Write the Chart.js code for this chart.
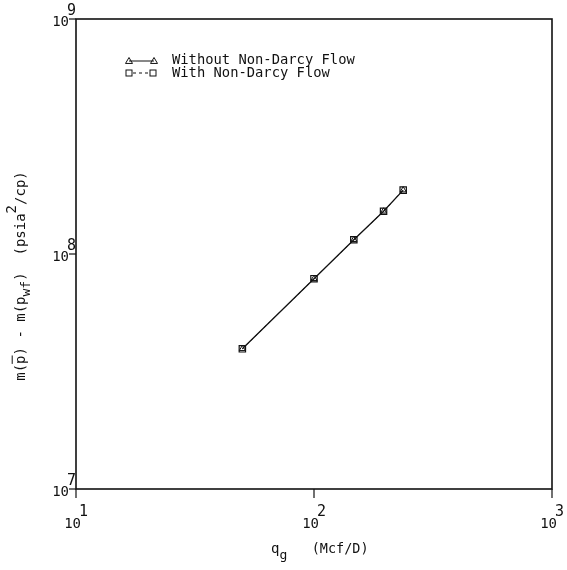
<!DOCTYPE html>
<html>
<head>
<meta charset="utf-8">
<script src="https://cdn.jsdelivr.net/npm/chart.js@4/dist/chart.umd.min.js"></script>
<style>
  html, body { margin: 0; padding: 0; background: #fff; }
  #wrap { width: 567px; height: 570px; }
</style>
</head>
<body>
<div id="wrap"><canvas id="myChart" width="567" height="570"></canvas></div>
<script>
"use strict";

// gas rate, Mcf/D
var qg = [50, 100, 147, 196, 237];
// m(p) - m(pwf), psia^2/cp
var withoutNonDarcy = [3.95e7, 7.85e7, 1.15e8, 1.52e8, 1.87e8];
var withNonDarcy = [3.95e7, 7.85e7, 1.15e8, 1.52e8, 1.87e8];

var xTicks = [10, 100, 1000];
var yTicks = [1e7, 1e8, 1e9];
var seriesNames = ["Without Non-Darcy Flow", "With Non-Darcy Flow"];

var FONT = "DejaVu Sans Mono";
var INK = "#111";

function toPoints(xs, ys) {
    var pts = [];
    for (var i = 0; i < xs.length; i++) {
        pts.push({ x: xs[i], y: ys[i] });
    }
    return pts;
}

// draws a run of text pieces, each with its own size and vertical shift
function drawRuns(ctx, x, y, runs) {
    var cx = x;
    runs.forEach(function (r) {
        ctx.font = r.size + "px " + FONT;
        ctx.fillText(r.t, cx, y + (r.dy || 0));
        var w = ctx.measureText(r.t).width;
        if (r.bar) {
            ctx.fillRect(cx, y - r.size * 0.95, w, 1);
        }
        cx += w;
    });
    return cx - x;
}

function runsWidth(ctx, runs) {
    var w = 0;
    runs.forEach(function (r) {
        ctx.font = r.size + "px " + FONT;
        w += ctx.measureText(r.t).width;
    });
    return w;
}

function drawTri(ctx, x, y, s) {
    ctx.beginPath();
    ctx.moveTo(x, y - s);
    ctx.lineTo(x + s, y + s * 0.7);
    ctx.lineTo(x - s, y + s * 0.7);
    ctx.closePath();
    ctx.stroke();
}

var frameAndLabels = {
    id: "frameAndLabels",
    afterDraw: function (chart) {
        var ctx = chart.ctx;
        var a = chart.chartArea;
        var xs = chart.scales.x, ys = chart.scales.y;
        ctx.save();
        ctx.strokeStyle = INK;
        ctx.fillStyle = INK;

        // plot frame
        ctx.lineWidth = 1.6;
        ctx.strokeRect(a.left, a.top, a.right - a.left, a.bottom - a.top);

        // tick marks and decade labels
        ctx.lineWidth = 1.2;
        ctx.textBaseline = "alphabetic";
        xTicks.forEach(function (v) {
            var px = xs.getPixelForValue(v);
            ctx.beginPath();
            ctx.moveTo(px, a.bottom);
            ctx.lineTo(px, a.bottom + 9);
            ctx.stroke();
            ctx.font = "14px " + FONT;
            ctx.textAlign = "right";
            ctx.fillText("10", px + 5, a.bottom + 39);
            ctx.font = "15px " + FONT;
            ctx.textAlign = "left";
            ctx.fillText(String(Math.round(Math.log10(v))), px + 3, a.bottom + 27);
        });
        yTicks.forEach(function (v) {
            var py = ys.getPixelForValue(v);
            ctx.beginPath();
            ctx.moveTo(a.left - 7, py);
            ctx.lineTo(a.left, py);
            ctx.stroke();
            ctx.font = "14px " + FONT;
            ctx.textAlign = "right";
            ctx.fillText("10", a.left - 7, py + 7);
            ctx.font = "15px " + FONT;
            ctx.textAlign = "left";
            ctx.fillText(String(Math.round(Math.log10(v))), a.left - 9, py - 4);
        });

        // x axis title: q_g  (Mcf/D)
        ctx.textAlign = "left";
        drawRuns(ctx, 271, 553, [
            { t: "q", size: 14 },
            { t: "g", size: 13, dy: 6 },
            { t: "   (Mcf/D)", size: 13.5 }
        ]);

        // y axis title, read bottom to top
        var yRuns = [
            { t: "m(", size: 14 },
            { t: "p", size: 14, bar: true },
            { t: ") - m(p", size: 14 },
            { t: "wf", size: 13, dy: 5 },
            { t: ")  (psia", size: 14 },
            { t: "2", size: 14, dy: -9 },
            { t: "/cp)", size: 14 }
        ];
        ctx.save();
        ctx.translate(25, 276);
        ctx.rotate(-Math.PI / 2);
        var tw = runsWidth(ctx, yRuns);
        drawRuns(ctx, -tw / 2, 0, yRuns);
        ctx.restore();

        // legend
        ctx.lineWidth = 1;
        ctx.font = "13.8px " + FONT;
        ctx.textAlign = "left";
        ctx.textBaseline = "middle";
        ctx.beginPath();
        ctx.moveTo(129, 61);
        ctx.lineTo(154, 61);
        ctx.stroke();
        drawTri(ctx, 129, 61, 3.5);
        drawTri(ctx, 154, 61, 3.5);
        ctx.fillText(seriesNames[0], 172, 60);

        ctx.setLineDash([3, 3]);
        ctx.beginPath();
        ctx.moveTo(133, 73);
        ctx.lineTo(149, 73);
        ctx.stroke();
        ctx.setLineDash([]);
        ctx.strokeRect(126, 70, 6, 6);
        ctx.strokeRect(150, 70, 6, 6);
        ctx.fillText(seriesNames[1], 172, 73);

        ctx.restore();
    }
};

var ctx = document.getElementById("myChart").getContext("2d");
var myChart = new Chart(ctx, {
    type: "scatter",
    data: {
        datasets: [{
            label: seriesNames[0],
            data: toPoints(qg, withoutNonDarcy),
            showLine: true,
            borderColor: INK,
            borderWidth: 1.3,
            pointStyle: "triangle",
            pointRadius: 3.5,
            pointBackgroundColor: "rgba(0,0,0,0)",
            pointBorderColor: INK,
            pointBorderWidth: 1
        }, {
            label: seriesNames[1],
            data: toPoints(qg, withNonDarcy),
            showLine: true,
            borderColor: INK,
            borderWidth: 1,
            borderDash: [3, 3],
            pointStyle: "rect",
            pointRadius: 4.5,
            pointBackgroundColor: "rgba(0,0,0,0)",
            pointBorderColor: INK,
            pointBorderWidth: 1.2
        }]
    },
    options: {
        responsive: false,
        animation: false,
        layout: { padding: { left: 76, right: 15, top: 19, bottom: 81 } },
        plugins: {
            legend: { display: false },
            tooltip: { enabled: false }
        },
        scales: {
            x: { type: "logarithmic", min: 10, max: 1000, display: false },
            y: { type: "logarithmic", min: 1e7, max: 1e9, display: false }
        }
    },
    plugins: [frameAndLabels]
});
</script>
</body>
</html>
